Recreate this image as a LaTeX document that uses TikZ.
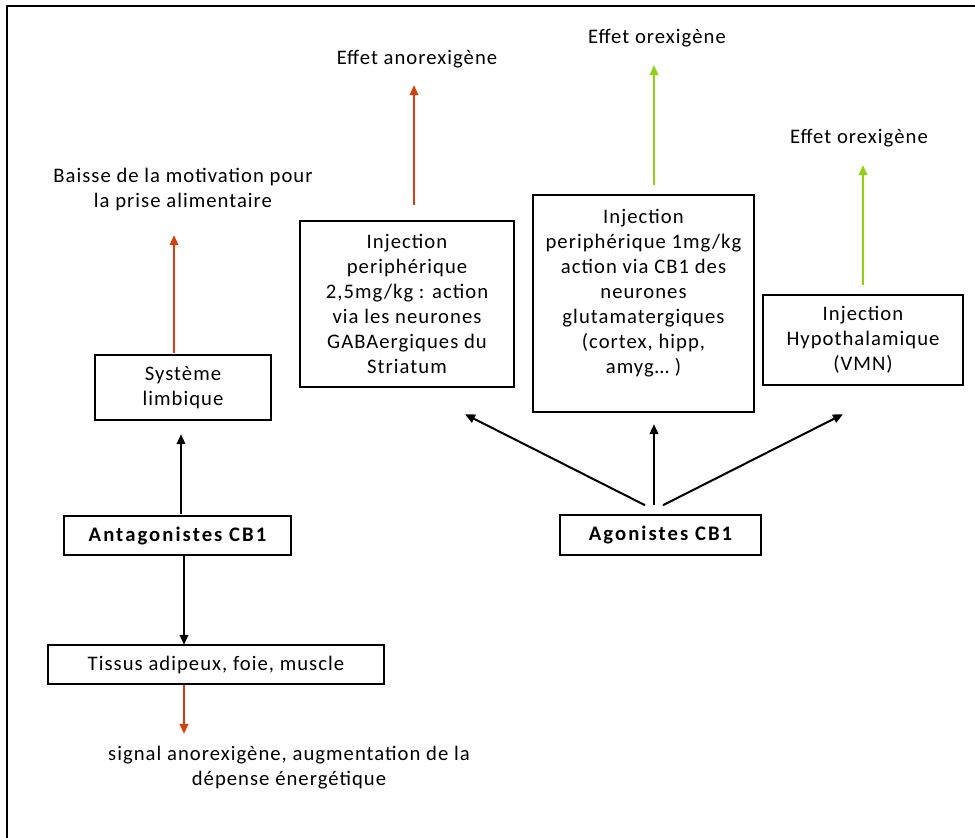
\documentclass[tikz,border=0pt]{standalone}
\usepackage{fontspec}
\setmainfont{Carlito}[LetterSpace=5, BoldFeatures={LetterSpace=10}]
\usetikzlibrary{arrows.meta}
\definecolor{rouge}{RGB}{212,64,14}
\definecolor{vert}{RGB}{146,208,20}

\begin{document}
\begin{tikzpicture}[x=0.75pt, y=-0.75pt,
        font=\fontsize{15.5}{18.75}\selectfont,
        boite/.style={draw, line width=1.2pt, align=center, inner sep=0pt},
        texte/.style={align=center, inner sep=0pt},
        fl/.style={-{Triangle[length=7.5pt, width=6.5pt]}, line width=1.5pt},
        flrouge/.style={fl, draw=rouge},
        flvert/.style={fl, draw=vert}]
                \useasboundingbox (0, 0) rectangle (975, 838);
                \draw[line width=1.5pt] (7, 838) -- (7, 6) -- (975, 6);

                % effets
                \node[texte] (anorex) at (417, 59) {Effet anorexigène};
                \node[texte] (orex1) at (657, 38) {Effet orexigène};
                \node[texte] (orex2) at (859, 138) {Effet orexigène};
                \node[texte] (baisse) at (183, 189.5) {Baisse de la motivation pour\\la prise alimentaire};
                \node[texte] (signal) at (289, 767.5) {signal anorexigène, augmentation de la\\dépense énergétique};

                % boites
                \node[boite, minimum width=132pt, minimum height=48.75pt] (limb) at (183, 387.5) {Système\\limbique};
                \node[boite, minimum width=160.5pt, minimum height=124.5pt] (inj25) at (407, 304) {Injection\\periphérique\\2,5mg/kg : action\\via les neurones\\GABAergiques du\\Striatum};
                \node[boite, minimum width=165.75pt, minimum height=162.75pt] (inj1) at (643.5, 303.5) {Injection\\periphérique 1mg/kg\\action via CB1 des\\neurones\\glutamatergiques\\(cortex, hipp,\\amyg… )\\\mbox{}};
                \node[boite, minimum width=150pt, minimum height=67.5pt] (hypo) at (863, 340) {Injection\\Hypothalamique\\(VMN)};
                \node[boite, minimum width=150.75pt, minimum height=30pt, font=\fontsize{15.5}{18.75}\selectfont\bfseries] (ago) at (660.5, 535) {Agonistes CB1};
                \node[boite, minimum width=170.25pt, minimum height=29.25pt, font=\fontsize{15.5}{18.75}\selectfont\bfseries] (anta) at (177.5, 535.5) {Antagonistes CB1};
                \node[boite, minimum width=252pt, minimum height=29.25pt] (tissus) at (216, 664.5) {Tissus adipeux, foie, muscle};

                % fleches
                \draw[flrouge] (inj25.north) ++(7, -15) -- ++(0, -120);
                \draw[flrouge] (limb.north) ++(-9, -1) -- ++(0, -118);
                \draw[flvert] (inj1.north) ++(10.5, -9) -- ++(0, -120);
                \draw[flvert] (hypo.north) ++(0, -9) -- ++(0, -120);

                \draw[fl] (ago.north) ++(-15.5, -9) -- ++(-180, -91);
                \draw[fl] (ago.north) ++(-6.5, -9) -- ++(0, -81);
                \draw[fl] (ago.north) ++(2.5, -9) -- ++(180, -91);

                \draw[fl] (anta.north) ++(3.5, -1) -- ++(0, -80);
                \draw[fl] (anta.south) ++(6.5, 0) -- ++(0, 89);
                \draw[flrouge] (tissus.south) ++(-32, 0) -- ++(0, 49);
            \end{tikzpicture}
\end{document}
